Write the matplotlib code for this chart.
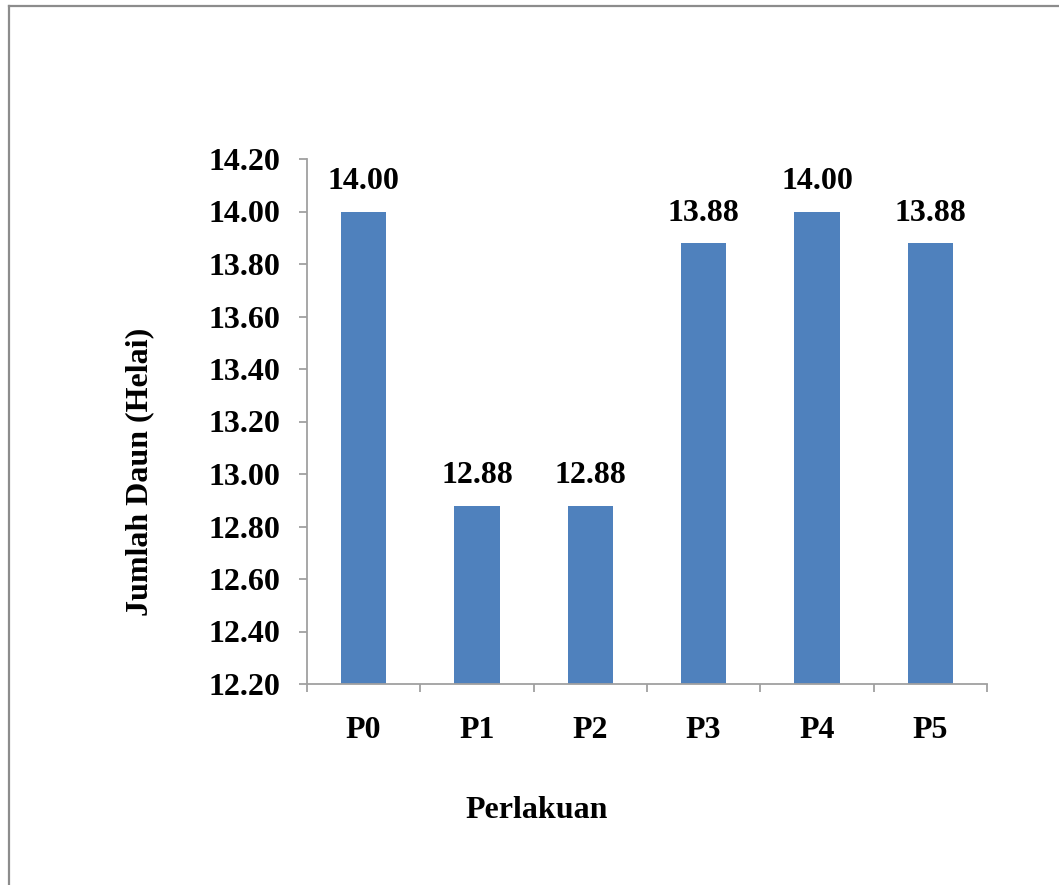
import matplotlib
matplotlib.use('Agg')
import matplotlib.pyplot as plt
from matplotlib.lines import Line2D
import numpy as np

perlakuan = ['P0', 'P1', 'P2', 'P3', 'P4', 'P5']
jumlah_daun = [14.00, 12.88, 12.88, 13.88, 14.00, 13.88]
y_ticks = [12.20, 12.40, 12.60, 12.80, 13.00, 13.20, 13.40, 13.60, 13.80, 14.00, 14.20]

BAR_COLOR = '#4F81BD'
AXIS_GREY = '#A0A0A0'
FONT = 'Liberation Serif'
SIZE = 23

plt.rcParams['font.family'] = FONT
plt.rcParams['font.weight'] = 'bold'

fig = plt.figure(figsize=(10.59, 8.85), dpi=100)
ax = fig.add_axes([307 / 1059, 1 - 684 / 885, 680 / 1059, 525 / 885])

x = np.arange(len(perlakuan))
bars = ax.bar(x, jumlah_daun, width=0.4, color=BAR_COLOR, zorder=2)

ax.set_xlim(-0.5, len(perlakuan) - 0.5)
ax.set_ylim(y_ticks[0], y_ticks[-1])
ax.set_yticks(y_ticks)
ax.set_yticklabels([f'{v:.2f}' for v in y_ticks])

# labels sit at the bar centres, tick marks at the category boundaries
ax.set_xticks(x)
ax.set_xticklabels(perlakuan)
ax.set_xticks(np.arange(-0.5, len(perlakuan)), minor=True)
ax.tick_params(axis='x', which='major', length=0, pad=23)
ax.tick_params(axis='x', which='minor', length=6, width=1.3, color=AXIS_GREY, direction='out')
ax.tick_params(axis='y', length=6, width=1.3, color=AXIS_GREY, direction='out', pad=13)

for lbl in ax.get_xticklabels() + ax.get_yticklabels():
    lbl.set_fontsize(SIZE)
    lbl.set_fontweight('bold')
    lbl.set_fontfamily(FONT)

for side in ['top', 'right']:
    ax.spines[side].set_visible(False)
for side in ['left', 'bottom']:
    ax.spines[side].set_color(AXIS_GREY)
    ax.spines[side].set_linewidth(1.3)

for rect, val in zip(bars, jumlah_daun):
    ax.annotate(f'{val:.2f}', (rect.get_x() + rect.get_width() / 2, val),
                xytext=(0, 11), textcoords='offset points',
                ha='center', va='bottom', fontsize=SIZE, fontweight='bold')

fig.text(140 / 1059, 1 - 472 / 885, 'Jumlah Daun (Helai)', rotation=90,
         ha='center', va='center', fontsize=SIZE, fontweight='bold')
fig.text(537 / 1059, 1 - 810 / 885, 'Perlakuan',
         ha='center', va='center', fontsize=SIZE, fontweight='bold')

# page frame around the chart
fig.add_artist(Line2D([8.5 / 1059, 8.5 / 1059], [0, 1 - 5.5 / 885],
                      transform=fig.transFigure, color='#8C8C8C', linewidth=1.6))
fig.add_artist(Line2D([8.5 / 1059, 1], [1 - 5.5 / 885, 1 - 5.5 / 885],
                      transform=fig.transFigure, color='#8C8C8C', linewidth=1.6))

fig.savefig('out.png', dpi=100, facecolor='white')
